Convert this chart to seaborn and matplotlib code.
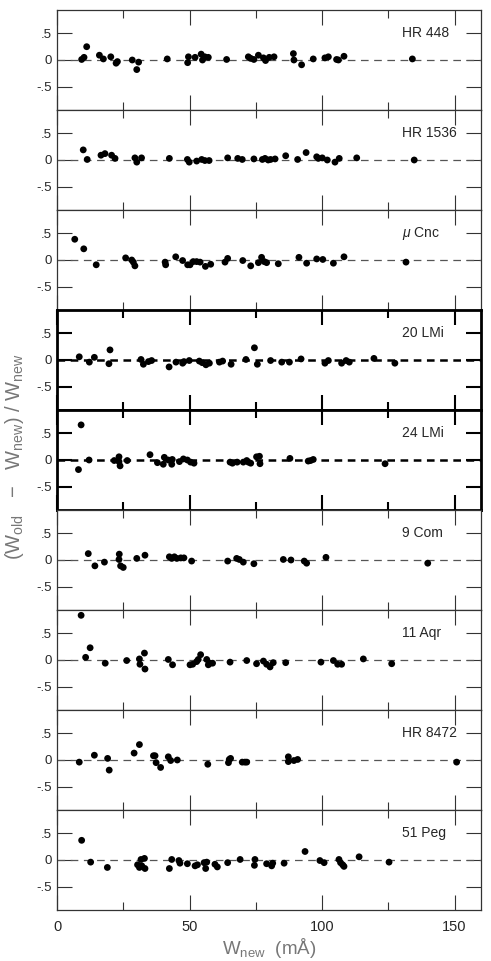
import numpy as np
import pandas as pd
import matplotlib
matplotlib.use('Agg')
import matplotlib.pyplot as plt
from matplotlib.ticker import MultipleLocator, FixedLocator
import seaborn as sns

# ── datos ────────────────────────────────────────
hr448_x = [9.3, 10.2, 11.2, 16.0, 17.5, 20.3, 22.3, 22.8, 28.4, 30.1, 30.8, 41.6, 49.3, 49.6,
           52.1, 54.4, 54.9, 55.8, 57.1, 64.0, 72.2, 73.1, 74.3, 76.0, 77.9, 78.7, 80.1, 81.9,
           89.2, 89.4, 92.3, 96.7, 101.1, 102.4, 105.5, 106.2, 108.3, 134.1]
hr448_y = [0.01, 0.05, 0.25, 0.09, 0.02, 0.06, -0.06, -0.03, 0.0, -0.18, -0.04, 0.02, -0.05, 0.06,
           0.05, 0.11, 0.0, 0.06, 0.05, 0.01, 0.06, 0.03, 0.01, 0.09, 0.04, -0.01, 0.05, 0.06,
           0.12, 0.0, -0.09, 0.02, 0.04, 0.06, 0.01, 0.0, 0.07, 0.02]

hr1536_x = [9.9, 11.4, 16.6, 18.1, 20.6, 21.9, 29.4, 30.1, 31.9, 42.4, 49.2, 49.9, 52.7, 54.6,
            55.8, 57.4, 64.4, 68.2, 69.9, 74.3, 77.5, 78.5, 79.7, 80.6, 82.3, 86.3, 90.8, 94.0,
            98.0, 98.6, 100.1, 102.0, 104.9, 106.5, 113.1, 134.8]
hr1536_y = [0.19, 0.01, 0.09, 0.12, 0.09, 0.03, 0.04, -0.04, 0.04, 0.03, 0.01, -0.04, -0.02, 0.01,
            -0.01, -0.01, 0.04, 0.03, 0.01, 0.02, 0.01, 0.03, 0.0, 0.01, 0.02, 0.08, 0.01, 0.14,
            0.06, 0.03, 0.04, 0.0, -0.04, 0.03, 0.04, 0.0]

mucnc_x = [6.7, 10.1, 14.8, 25.9, 28.2, 28.8, 29.4, 40.8, 41.0, 44.8, 47.4, 49.3, 50.2, 51.4,
           52.7, 54.0, 56.0, 58.0, 63.4, 64.4, 70.1, 73.1, 76.0, 77.2, 78.2, 79.1, 83.5, 91.3,
           94.2, 98.0, 100.3, 104.3, 108.3, 131.7]
mucnc_y = [0.39, 0.21, -0.09, 0.04, 0.0, -0.04, -0.11, -0.04, -0.09, 0.06, -0.01, -0.09, -0.09, -0.03,
           -0.03, -0.04, -0.12, -0.08, -0.04, 0.03, -0.01, -0.11, -0.05, 0.05, -0.03, -0.05, -0.07, 0.05,
           -0.06, 0.02, 0.01, -0.06, 0.06, -0.04]

lmi20_x = [8.4, 12.2, 14.1, 20.0, 19.6, 31.7, 32.6, 34.5, 35.7, 42.3, 44.9, 47.4, 47.9, 49.9,
           53.7, 54.8, 56.2, 57.5, 61.3, 62.5, 65.7, 71.3, 74.5, 75.6, 80.6, 84.8, 87.7, 92.1,
           101.1, 102.4, 107.4, 109.1, 110.3, 119.6, 127.5]
lmi20_y = [0.06, -0.04, 0.05, 0.19, -0.07, 0.01, -0.08, -0.03, -0.01, -0.13, -0.04, -0.06, -0.03, -0.01,
           -0.02, -0.05, -0.09, -0.06, -0.04, -0.02, -0.08, 0.01, 0.23, -0.08, -0.01, -0.04, -0.04, 0.02,
           -0.06, -0.01, -0.06, -0.01, -0.04, 0.03, -0.06]

lmi24_x = [8.1, 9.1, 12.1, 21.6, 23.4, 23.8, 23.4, 26.5, 35.1, 37.9, 40.1, 40.5, 42.0, 43.3,
           43.5, 46.2, 47.7, 49.2, 50.4, 51.7, 65.3, 66.2, 68.0, 70.3, 71.6, 72.2, 73.1, 75.3,
           76.4, 76.6, 87.9, 94.8, 95.7, 96.7, 123.8]
lmi24_y = [-0.18, 0.66, 0.0, -0.01, 0.06, -0.11, -0.03, -0.01, 0.10, -0.05, -0.08, 0.05, 0.0, -0.08,
           0.01, -0.03, 0.02, 0.0, -0.04, -0.06, -0.04, -0.06, -0.04, -0.04, -0.01, -0.04, -0.06, 0.06,
           0.07, -0.07, 0.03, -0.02, -0.01, 0.01, -0.07]

com9_x = [11.8, 14.3, 17.9, 23.5, 23.4, 24.0, 25.0, 30.1, 33.2, 42.4, 43.3, 44.3, 45.2, 46.7,
          47.9, 50.8, 64.4, 67.8, 68.8, 70.3, 74.3, 85.4, 88.3, 93.3, 94.2, 101.5, 139.9]
com9_y = [0.12, -0.11, -0.04, 0.11, 0.01, -0.11, -0.14, 0.03, 0.09, 0.06, 0.03, 0.06, 0.03, 0.04,
          0.04, -0.02, -0.02, 0.03, 0.01, -0.04, -0.07, 0.01, 0.0, -0.02, -0.06, 0.05, -0.06]

aqr11_x = [9.1, 10.8, 12.5, 18.2, 26.3, 31.1, 31.3, 33.0, 33.2, 42.0, 43.6, 50.2, 51.2, 52.7,
           53.3, 54.2, 56.5, 57.1, 57.7, 58.7, 65.3, 71.6, 75.3, 77.9, 79.1, 80.4, 81.6, 86.3,
           99.6, 104.3, 105.9, 107.4, 115.6, 126.3]
aqr11_y = [0.84, 0.05, 0.23, -0.06, -0.01, 0.02, -0.08, 0.13, -0.17, 0.01, -0.09, -0.09, -0.08, -0.03,
           0.01, 0.10, 0.01, -0.09, -0.06, -0.06, -0.04, -0.01, -0.07, -0.02, -0.08, -0.13, -0.05, -0.05,
           -0.04, -0.01, -0.08, -0.08, 0.02, -0.07]

hr8472_x = [8.4, 14.1, 19.1, 19.7, 29.1, 31.1, 36.4, 37.0, 37.4, 39.1, 42.0, 42.9, 45.4, 56.9,
            64.7, 65.0, 65.5, 69.9, 70.9, 71.6, 87.3, 87.3, 89.4, 90.8, 150.8]
hr8472_y = [-0.04, 0.09, 0.03, -0.19, 0.13, 0.29, 0.08, 0.08, -0.05, -0.14, 0.06, -0.01, 0.0, -0.08,
            -0.05, 0.01, 0.03, -0.04, -0.04, -0.04, 0.06, -0.03, -0.01, 0.01, -0.04]

peg51_x = [9.3, 12.7, 19.0, 30.4, 31.1, 31.7, 32.0, 33.0, 33.2, 42.4, 43.3, 46.0, 46.4, 49.2,
           52.1, 53.0, 55.5, 56.1, 56.5, 59.6, 60.5, 64.4, 69.1, 74.7, 74.5, 79.1, 81.0, 81.4,
           85.7, 93.6, 99.2, 100.8, 106.4, 107.0, 107.8, 108.3, 114.0, 125.3]
peg51_y = [0.37, -0.04, -0.14, -0.09, -0.14, 0.01, -0.11, 0.03, -0.16, -0.16, 0.01, -0.01, -0.06, -0.07,
           -0.11, -0.09, -0.05, -0.16, -0.04, -0.08, -0.13, -0.05, 0.01, 0.01, -0.10, -0.07, -0.11, -0.06,
           -0.06, 0.16, -0.01, -0.05, 0.01, -0.05, -0.09, -0.12, 0.06, -0.04]

estrellas = ['HR 448', 'HR 1536', r'$\mu$ Cnc', '20 LMi', '24 LMi', '9 Com', '11 Aqr', 'HR 8472', '51 Peg']
datos_x = [hr448_x, hr1536_x, mucnc_x, lmi20_x, lmi24_x, com9_x, aqr11_x, hr8472_x, peg51_x]
datos_y = [hr448_y, hr1536_y, mucnc_y, lmi20_y, lmi24_y, com9_y, aqr11_y, hr8472_y, peg51_y]
gruesos = ['20 LMi', '24 LMi']

# ── estilo ───────────────────────────────────────
sns.set_style('ticks')
plt.rcParams['font.family'] = ['Liberation Sans', 'DejaVu Sans']
plt.rcParams['mathtext.fontset'] = 'custom'
plt.rcParams['mathtext.rm'] = 'Liberation Sans'
plt.rcParams['mathtext.it'] = 'Liberation Sans:italic'
plt.rcParams['lines.scale_dashes'] = False

fig, axes = plt.subplots(9, 1, figsize=(4.91, 9.61), dpi=100, sharex=True)
fig.subplots_adjust(left=57/491, right=481/491, top=1 - 10/961, bottom=1 - 910/961, hspace=0)

for i, (ax, nombre, xs, ys) in enumerate(zip(axes, estrellas, datos_x, datos_y)):
    grueso = nombre in gruesos
    lw = 2.0 if grueso else 0.9
    col = 'black' if grueso else '#333333'

    ax.axhline(0, color='black' if grueso else '#555555', lw=1.8 if grueso else 0.9,
               ls=(0, (5.5, 4)), zorder=1)
    df = pd.DataFrame({'w': xs, 'r': ys})
    sns.scatterplot(data=df, x='w', y='r', ax=ax, color='black', s=24,
                    edgecolor='none', linewidth=0, zorder=3)

    ax.set_xlim(0, 160)
    ax.set_ylim(-0.94, 0.94)
    ax.yaxis.set_major_locator(FixedLocator([-0.5, 0, 0.5]))
    ax.set_yticklabels(['-.5', '0', '.5'])
    ax.xaxis.set_major_locator(MultipleLocator(50))
    ax.xaxis.set_minor_locator(MultipleLocator(25))
    ax.tick_params(which='both', direction='in', top=True, right=True,
                   width=1.5 if grueso else 0.8, color=col, labelsize=9.5, pad=3.5)
    ax.tick_params(which='major', length=11)
    ax.tick_params(which='minor', length=5.5)
    for sp in ax.spines.values():
        sp.set_linewidth(lw)
        sp.set_color(col)
        sp.set_zorder(5 if grueso else 4)
    ax.set_xlabel('')
    ax.set_ylabel('')
    ax.text(130, 0.5, nombre, ha='left', va='center', fontsize=10)

axes[-1].set_xticks([0, 50, 100, 150])
axes[-1].set_xticklabels(['0', '50', '100', '150'])
axes[-1].tick_params(axis='x', labelsize=10.5, pad=7)

fig.text(269/491, 1 - 948/961, r'W$_{\rm new}$  (m$\rm\AA$)', ha='center', va='center',
         fontsize=13.5, color='#777777')
fig.text(15/491, 1 - 457/961, r'(W$_{\rm old}$   $-$   W$_{\rm new}$) / W$_{\rm new}$',
         rotation=90, ha='center', va='center', fontsize=14.5, color='#777777')

plt.savefig('out.png', dpi=100)
